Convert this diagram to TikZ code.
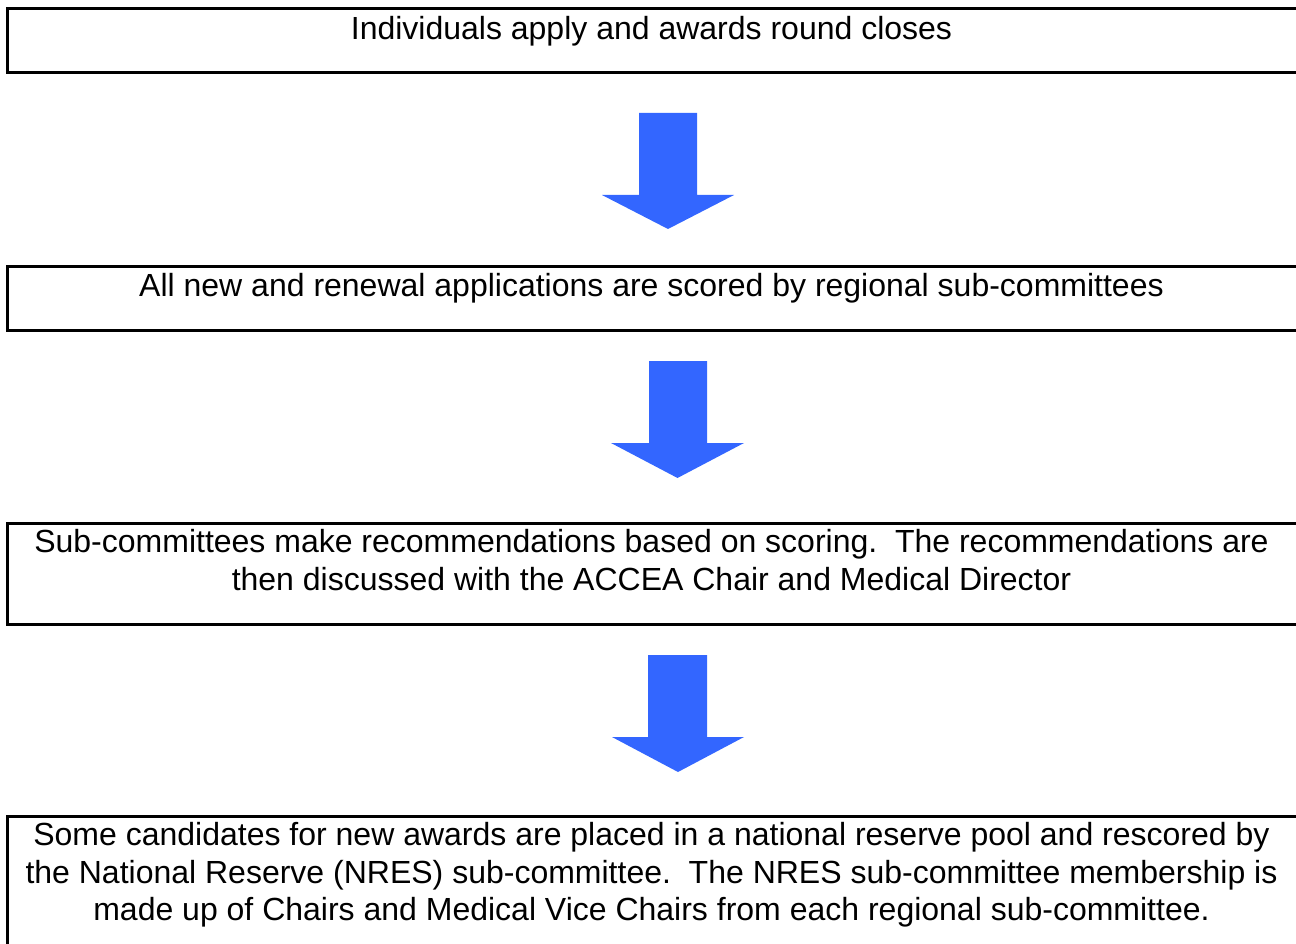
\documentclass[tikz,border=0pt]{standalone}
\usepackage{fontspec}
\setmainfont{Liberation Sans}
\definecolor{arrowblue}{HTML}{3366FF}
\begin{document}
\begin{tikzpicture}[x=1pt,y=-1pt,
  boxst/.style={draw=black,line width=3pt,inner sep=0pt,outer sep=0pt,minimum width=1292pt},
  txt/.style={inner sep=0pt,anchor=base,font=\fontsize{32}{37.5}\selectfont},
  blockarrow/.style={fill=arrowblue,draw=none}]
\useasboundingbox (0,0) rectangle (1296,944);
\node[boxst,minimum height=64pt] (box1) at (653,41) {};
\node[boxst,minimum height=64pt] (box2) at (653,298) {};
\node[boxst,minimum height=101pt] (box3) at (653,573.5) {};
\node[boxst,minimum height=134pt] (box4) at (653,883) {};
\node[txt] (t1) at (651.5,39.5) {Individuals apply and awards round closes};
\node[txt] (t2) at (651.5,296.5) {All new and renewal applications are scored by regional sub-committees};
\node[txt] (t3a) at (651.5,552.5) {Sub-committees make recommendations based on scoring.\ \ The recommendations are};
\node[txt] (t3b) at (651.5,590) {then discussed with the ACCEA Chair and Medical Director};
\node[txt] (t4a) at (651.5,845.5) {Some candidates for new awards are placed in a national reserve pool and rescored by};
\node[txt] (t4b) at (651.5,883) {the National Reserve (NRES) sub-committee.\ \ The NRES sub-committee membership is};
\node[txt] (t4c) at (651.5,920.5) {made up of Chairs and Medical Vice Chairs from each regional sub-committee.};
\fill[blockarrow] (639,113) -- (697,113) -- (697,195) -- (734,195) -- (668,229) -- (602,195) -- (639,195) -- cycle;
\fill[blockarrow] (649,361) -- (707,361) -- (707,443) -- (744,443) -- (677.5,478) -- (611,443) -- (649,443) -- cycle;
\fill[blockarrow] (648,655) -- (707,655) -- (707,737) -- (744,737) -- (678,772) -- (612,737) -- (648,737) -- cycle;
\end{tikzpicture}
\end{document}
